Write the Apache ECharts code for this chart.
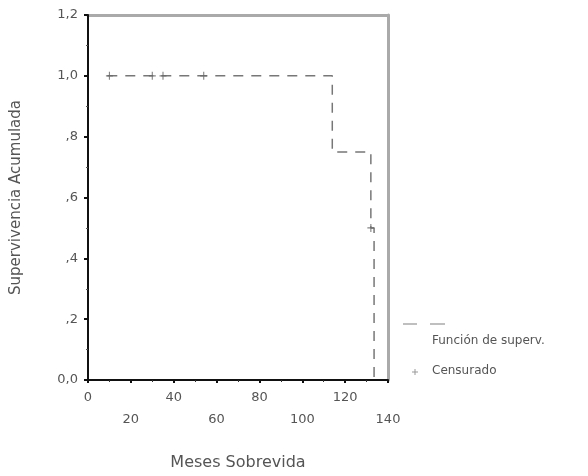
<!DOCTYPE html>
<html>
<head>
<meta charset="utf-8">
<script src="https://cdn.jsdelivr.net/npm/echarts@6/dist/echarts.min.js"></script>
<style>html,body{margin:0;padding:0;background:#fff}#c{width:588px;height:476px}</style>
</head>
<body>
<div id="c"></div>
<script>
// Kaplan-Meier survival function (step changes at event times)
const eventTimes = [9, 114, 132, 133.5];
const survivalValues = [1.0, 0.75, 0.5, 0.0];
// Censored observations
const censorTimes = [10, 30, 35, 54, 132];
const censorSurvival = [1.0, 1.0, 1.0, 1.0, 0.5];
// Axis tick values
const xTicks = [0, 20, 40, 60, 80, 100, 120, 140];
const yTickLabels = {'0': '0,0', '0.2': ',2', '0.4': ',4', '0.6': ',6', '0.8': ',8', '1': '1,0', '1.2': '1,2'};
const seriesNames = ['Función de superv.', 'Censurado'];

const chart = echarts.init(document.getElementById('c'), null, {renderer: 'canvas'});
const font = 'DejaVu Sans';
const txt = '#555';
const frameAxis = {
  axisLine: {show: true, onZero: false, lineStyle: {color: '#aaa', width: 3}},
  axisTick: {show: false}, axisLabel: {show: false}, splitLine: {show: false}
};
const option = {
  backgroundColor: '#fff',
  animation: false,
  grid: {left: 88, right: 200, top: 15, bottom: 92, show: false},
  xAxis: [{
    type: 'value', min: xTicks[0], max: xTicks[xTicks.length - 1], interval: 20,
    name: 'Meses Sobrevida', nameLocation: 'middle', nameGap: 75,
    nameTextStyle: {fontFamily: font, fontSize: 16, color: txt},
    axisLine: {show: true, onZero: false, lineStyle: {color: '#111', width: 2}},
    axisTick: {show: true, length: 3, inside: false, lineStyle: {color: '#111', width: 2}},
    minorTick: {show: true, splitNumber: 2, length: 2, lineStyle: {color: '#333', width: 1}},
    splitLine: {show: false},
    axisLabel: {
      fontFamily: font, fontSize: 13, color: txt, margin: 7, lineHeight: 22,
      formatter: v => (v % 40 === 0 ? String(v) : '\n' + v)
    },
    z: 5
  }, Object.assign({type: 'value', position: 'top', min: xTicks[0], max: xTicks[xTicks.length - 1], interval: 20, z: 1}, frameAxis)],
  yAxis: [{
    type: 'value', min: 0, max: 1.2, interval: 0.2,
    name: 'Supervivencia Acumulada', nameLocation: 'middle', nameGap: 64,
    nameTextStyle: {fontFamily: font, fontSize: 15, color: txt},
    axisLine: {show: true, onZero: false, lineStyle: {color: '#111', width: 2}},
    axisTick: {show: true, length: 4, lineStyle: {color: '#111', width: 2}},
    minorTick: {show: true, splitNumber: 2, length: 2, lineStyle: {color: '#555'}},
    splitLine: {show: false},
    axisLabel: {
      fontFamily: font, fontSize: 13, color: txt, margin: 10,
      formatter: v => yTickLabels[String(Math.round(v * 10) / 10)] || ''
    },
    z: 5
  }, Object.assign({type: 'value', position: 'right', min: 0, max: 1.2, interval: 0.2, z: 1}, frameAxis)],
  series: [
    {
      name: seriesNames[0], type: 'line', step: 'end', symbol: 'none',
      data: eventTimes.map((t, i) => [t, survivalValues[i]]),
      lineStyle: {color: '#777', width: 1.5, type: [10, 8]},
      z: 3
    },
    {
      name: seriesNames[1], type: 'scatter',
      symbol: 'path://M5,0L5,10M0,5L10,5', symbolSize: [7, 8],
      data: censorTimes.map((t, i) => [t, censorSurvival[i]]),
      itemStyle: {color: '#666', borderColor: '#666', borderWidth: 1.2},
      z: 4
    }
  ],
  graphic: [
    {type: 'line', shape: {x1: 403, y1: 324, x2: 417, y2: 324}, style: {stroke: '#aaa', lineWidth: 1.5}},
    {type: 'line', shape: {x1: 430, y1: 324, x2: 445, y2: 324}, style: {stroke: '#aaa', lineWidth: 1.5}},
    {type: 'text', left: 432, top: 335, style: {text: seriesNames[0], font: '12px "DejaVu Sans"', fill: txt}},
    {type: 'line', shape: {x1: 412, y1: 372, x2: 418, y2: 372}, style: {stroke: '#999', lineWidth: 1}},
    {type: 'line', shape: {x1: 415, y1: 369, x2: 415, y2: 375}, style: {stroke: '#999', lineWidth: 1}},
    {type: 'text', left: 432, top: 365, style: {text: seriesNames[1], font: '12px "DejaVu Sans"', fill: txt}}
  ]
};
chart.setOption(option);
</script>
</body>
</html>
